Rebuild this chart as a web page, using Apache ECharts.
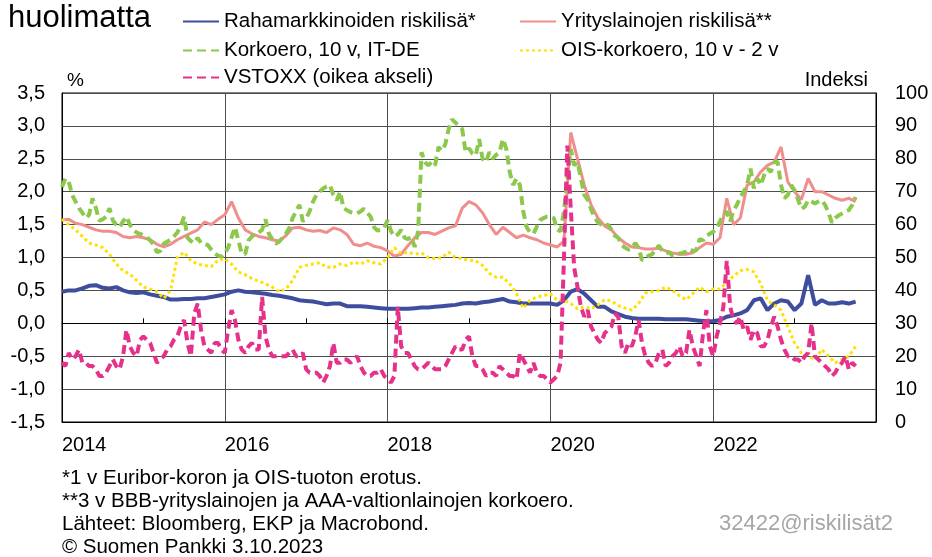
<!DOCTYPE html>
<html><head><meta charset="utf-8">
<script src="https://cdn.jsdelivr.net/npm/echarts/dist/echarts.min.js"></script>
<style>html,body{margin:0;padding:0;background:#fff}#c{width:932px;height:557px}</style>
</head><body><div id="c"></div>
<script>
// Observations start January 2014 and end early October 2023.
// Monthly series: one value per month. Half-monthly series: two values per month.
const startYear = 2014;
const yearLabels = [2014, 2016, 2018, 2020, 2022];

const moneyMarket = [ // Rahamarkkinoiden riskilisä, %, monthly
 0.48,0.50,0.50,0.53,0.57,0.58,0.54,0.53,0.55,0.50,0.47,0.46,
 0.47,0.44,0.42,0.40,0.36,0.36,0.37,0.37,0.38,0.38,0.40,0.42,
 0.44,0.48,0.50,0.48,0.47,0.46,0.45,0.43,0.42,0.40,0.38,0.35,
 0.34,0.33,0.31,0.29,0.30,0.30,0.26,0.26,0.26,0.25,0.24,0.23,
 0.22,0.22,0.22,0.22,0.23,0.24,0.24,0.25,0.26,0.27,0.28,0.30,
 0.31,0.30,0.32,0.33,0.35,0.37,0.33,0.32,0.30,0.30,0.30,0.30,
 0.30,0.28,0.35,0.48,0.52,0.45,0.35,0.25,0.25,0.18,0.14,0.10,
 0.08,0.07,0.07,0.07,0.07,0.06,0.06,0.06,0.06,0.05,0.04,0.03,
 0.03,0.05,0.10,0.12,0.15,0.20,0.35,0.38,0.20,0.30,0.35,0.33,
 0.20,0.30,0.73,0.28,0.35,0.30,0.30,0.32,0.30,0.33
];
const corporate = [ // Yrityslainojen riskilisä, %, monthly
 1.57,1.58,1.52,1.50,1.46,1.42,1.40,1.40,1.38,1.32,1.30,1.32,
 1.30,1.27,1.20,1.16,1.20,1.27,1.32,1.37,1.42,1.54,1.50,1.58,
 1.65,1.85,1.60,1.42,1.36,1.32,1.30,1.27,1.25,1.33,1.45,1.46,
 1.42,1.40,1.41,1.38,1.45,1.42,1.35,1.20,1.18,1.22,1.17,1.15,
 1.10,1.02,1.05,1.18,1.30,1.38,1.38,1.35,1.40,1.45,1.48,1.75,
 1.85,1.80,1.68,1.50,1.35,1.46,1.38,1.30,1.34,1.30,1.27,1.22,
 1.19,1.16,1.25,2.90,2.50,2.10,1.80,1.60,1.48,1.42,1.30,1.22,
 1.16,1.15,1.13,1.13,1.14,1.10,1.07,1.05,1.05,1.07,1.15,1.22,
 1.20,1.30,1.90,1.50,1.60,2.10,2.15,2.30,2.40,2.45,2.68,2.15,
 2.00,1.88,2.20,2.00,2.00,1.95,1.90,1.87,1.90,1.85
];
const itDeSpread = [ // Korkoero, 10 v, IT-DE, %, half-monthly
 2.07,2.20,2.15,1.95,1.85,1.75,1.68,1.60,1.65,1.90,1.75,1.56,1.58,1.62,1.75,1.56,1.50,1.46,1.55,1.62,1.50,1.42,1.38,1.36,
 1.34,1.31,1.26,1.20,1.08,1.10,1.21,1.24,1.27,1.32,1.38,1.48,1.62,1.30,1.25,1.22,1.30,1.22,1.20,1.19,1.12,1.06,1.03,1.01,
 1.06,1.15,1.31,1.46,1.26,1.06,1.05,1.26,1.32,1.36,1.38,1.42,1.58,1.36,1.28,1.21,1.24,1.30,1.36,1.45,1.60,1.70,1.80,1.55,
 1.60,1.70,1.85,1.95,2.00,2.05,2.08,2.10,1.95,1.87,2.00,1.75,1.72,1.69,1.68,1.67,1.70,1.74,1.68,1.62,1.46,1.41,1.42,1.45,
 1.57,1.40,1.32,1.35,1.42,1.30,1.28,1.31,1.16,1.40,2.60,2.45,2.40,2.45,2.40,2.68,2.62,2.72,2.95,3.10,3.05,3.00,2.95,2.60,
 2.66,2.58,2.55,2.80,2.50,2.45,2.60,2.50,2.56,2.60,2.80,2.65,2.30,2.10,2.20,2.10,1.70,1.46,1.38,1.36,1.47,1.57,1.60,1.62,
 1.62,1.60,1.42,1.40,1.70,2.20,2.65,2.40,2.45,2.20,1.95,1.88,1.73,1.62,1.53,1.50,1.47,1.50,1.42,1.33,1.30,1.19,1.15,1.12,
 1.14,1.22,1.15,0.96,0.98,1.03,1.05,1.12,1.18,1.10,1.06,1.08,1.03,1.03,1.06,1.07,1.09,1.13,1.10,1.11,1.28,1.26,1.33,1.36,
 1.39,1.44,1.55,1.65,1.70,1.55,1.72,1.80,1.92,2.00,2.10,2.35,2.05,2.20,2.10,2.25,2.35,2.30,2.45,2.45,2.10,1.90,1.95,2.10,
 2.02,1.88,1.74,1.77,1.87,1.85,1.82,1.85,1.87,1.80,1.68,1.53,1.60,1.64,1.67,1.70,1.72,1.80,1.92
];
const oisSlope = [ // OIS-korkoero, 10 v - 2 v, %, monthly
 1.58,1.50,1.42,1.32,1.22,1.19,1.15,1.05,0.90,0.80,0.75,0.65,
 0.55,0.52,0.48,0.38,0.50,1.00,1.08,0.95,0.90,0.88,0.86,0.96,
 0.98,0.90,0.78,0.74,0.68,0.64,0.60,0.55,0.48,0.52,0.65,0.85,
 0.88,0.90,0.92,0.85,0.85,0.90,0.88,0.93,0.90,0.95,0.92,0.90,
 1.00,1.15,1.06,1.08,1.05,1.07,1.00,0.98,1.00,1.08,1.00,0.98,
 0.96,0.95,0.88,0.76,0.70,0.70,0.60,0.45,0.23,0.35,0.40,0.42,
 0.45,0.35,0.35,0.30,0.22,0.25,0.22,0.28,0.36,0.34,0.27,0.23,
 0.20,0.30,0.46,0.48,0.50,0.55,0.50,0.42,0.36,0.45,0.55,0.48,
 0.52,0.52,0.62,0.72,0.80,0.82,0.78,0.60,0.35,0.28,0.20,-0.05,
 -0.30,-0.45,-0.50,-0.55,-0.40,-0.50,-0.60,-0.55,-0.50,-0.35
];
const vstoxx = [ // VSTOXX, index (right axis), half-monthly
 18,17,21,19,20,22,18,18,17,17,16,14,14,15,17,19,17,16,20,28,23,21,20,25,
 26,25,24,21,18,19,20,22,23,25,26,29,31,24,20,33,36,28,23,22,21,24,24,22,
 21,28,34,31,25,22,21,23,24,22,22,38,26,22,20,20,20,20,20,21,22,20,20,21,
 16,15,15,15,14,12,14,17,24,18,18,19,19,18,19,20,17,15,14,14,15,15,16,14,
 13,12,14,35,23,21,21,19,17,16,16,17,18,17,16,16,16,17,19,21,23,22,22,25,
 26,20,17,17,16,14,15,15,14,17,16,15,14,14,13,21,19,17,15,18,15,14,14,13,
 12,13,14,18,50,84,65,47,41,35,32,34,29,27,25,24,27,28,29,33,32,23,21,24,
 23,26,31,24,20,18,17,18,21,22,17,18,20,21,23,20,21,28,23,20,17,27,34,23,
 20,26,30,35,49,35,31,30,32,28,29,25,28,27,23,23,25,29,32,29,25,22,20,20,
 19,19,18,20,21,30,20,19,18,17,16,14,15,17,18,20,16,18,17
];

const FONT = "'Liberation Sans', Arial, sans-serif";
const monthly = arr => arr.map((v, i) => [startYear + i / 12, v]);
const halfMonthly = arr => arr.map((v, i) => [startYear + i / 24, v]);

const chart = echarts.init(document.getElementById('c'), null, {renderer: 'canvas'});
const legendBase = {
  orient: 'horizontal', itemWidth: 36, itemHeight: 14, itemGap: 0, padding: 0,
  itemStyle: {opacity: 0, borderWidth: 0},
  textStyle: {fontSize: 20.5, color: '#000', fontFamily: FONT}, selectedMode: false
};
const txt = (x, y, text, size, extra) => ({type: 'text', x: x, y: y,
  style: Object.assign({text: text, font: size + 'px ' + FONT, fill: '#000', verticalAlign: 'middle'}, extra || {})});

chart.setOption({
  animation: false,
  backgroundColor: '#fff',
  grid: {left: 62, right: 56, top: 93, bottom: 135, show: true, borderColor: '#000', borderWidth: 1},
  legend: [
    Object.assign({left: 182, top: 11, data: ['Rahamarkkinoiden riskilisä*']}, legendBase),
    Object.assign({left: 519, top: 11, data: ['Yrityslainojen riskilisä**']}, legendBase),
    Object.assign({left: 182, top: 40, data: ['Korkoero, 10 v, IT-DE']}, legendBase),
    Object.assign({left: 519, top: 40, data: ['OIS-korkoero, 10 v - 2 v']}, legendBase),
    Object.assign({left: 182, top: 67, data: ['VSTOXX (oikea akseli)']}, legendBase)
  ],
  xAxis: [
    {type: 'value', min: 2014, max: 2024, interval: 2, position: 'bottom',
     axisLine: {onZero: false, show: true, lineStyle: {color: '#000'}},
     axisTick: {show: false},
     splitLine: {show: true, lineStyle: {color: '#4d4d4d', width: 1}},
     axisLabel: {show: true, align: 'left', margin: 13, fontSize: 20, color: '#000', fontFamily: FONT,
       showMaxLabel: false,
       formatter: v => yearLabels.indexOf(Math.round(v)) >= 0 ? String(Math.round(v)) : ''}},
    {type: 'value', min: 2014, max: 2024, interval: 1, position: 'bottom',
     axisLine: {onZero: true, onZeroAxisIndex: 0, show: true, lineStyle: {color: '#000'}},
     axisTick: {show: true, inside: true, length: 5, lineStyle: {color: '#000'}},
     splitLine: {show: false}, axisLabel: {show: false}}
  ],
  yAxis: [
    {type: 'value', min: -1.5, max: 3.5, interval: 0.5, position: 'left',
     axisLine: {show: true, lineStyle: {color: '#000'}}, axisTick: {show: false},
     splitLine: {show: true, lineStyle: {color: '#4d4d4d', width: 1}},
     axisLabel: {margin: 17, fontSize: 20, color: '#000', fontFamily: FONT,
       formatter: v => v.toFixed(1).replace('.', ',')}},
    {type: 'value', min: 0, max: 100, interval: 10, position: 'right',
     axisLine: {show: true, lineStyle: {color: '#000'}}, axisTick: {show: false},
     splitLine: {show: false},
     axisLabel: {margin: 19, fontSize: 20, color: '#000', fontFamily: FONT}}
  ],
  series: [
    {name: 'Rahamarkkinoiden riskilisä*', type: 'line', yAxisIndex: 0, symbol: 'none',
     data: monthly(moneyMarket), itemStyle: {color: '#3f4d9e'}, lineStyle: {color: '#3f4d9e', width: 4}, z: 3},
    {name: 'Yrityslainojen riskilisä**', type: 'line', yAxisIndex: 0, symbol: 'none',
     data: monthly(corporate), itemStyle: {color: '#f08e8e'}, lineStyle: {color: '#f08e8e', width: 3}, z: 4},
    {name: 'Korkoero, 10 v, IT-DE', type: 'line', yAxisIndex: 0, symbol: 'none',
     data: halfMonthly(itDeSpread), itemStyle: {color: '#8cc84b'},
     lineStyle: {color: '#8cc84b', width: 4, type: [9, 5]}, z: 5},
    {name: 'OIS-korkoero, 10 v - 2 v', type: 'line', yAxisIndex: 0, symbol: 'none',
     data: monthly(oisSlope), itemStyle: {color: '#ffe000'},
     lineStyle: {color: '#ffe000', width: 3, type: [3, 3]}, z: 6},
    {name: 'VSTOXX (oikea akseli)', type: 'line', yAxisIndex: 1, symbol: 'none',
     data: halfMonthly(vstoxx), itemStyle: {color: '#e6318b'},
     lineStyle: {color: '#e6318b', width: 4, type: [9, 5]}, z: 7}
  ],
  graphic: [
    txt(8, 18, 'huolimatta', 31),
    txt(67, 81, '%', 19),
    txt(868, 80, 'Indeksi', 20, {align: 'right'}),
    txt(62, 478, '*1 v Euribor-koron ja OIS-tuoton erotus.', 20.5),
    txt(62, 501, '**3 v BBB-yrityslainojen ja AAA-valtionlainojen korkoero.', 20.5),
    txt(62, 524, 'Lähteet: Bloomberg, EKP ja Macrobond.', 20.5),
    txt(62, 547, '© Suomen Pankki 3.10.2023', 20.5),
    txt(893, 524, '32422@riskilisät2', 22, {align: 'right', fill: '#a6a6a6'})
  ]
});
</script></body></html>
